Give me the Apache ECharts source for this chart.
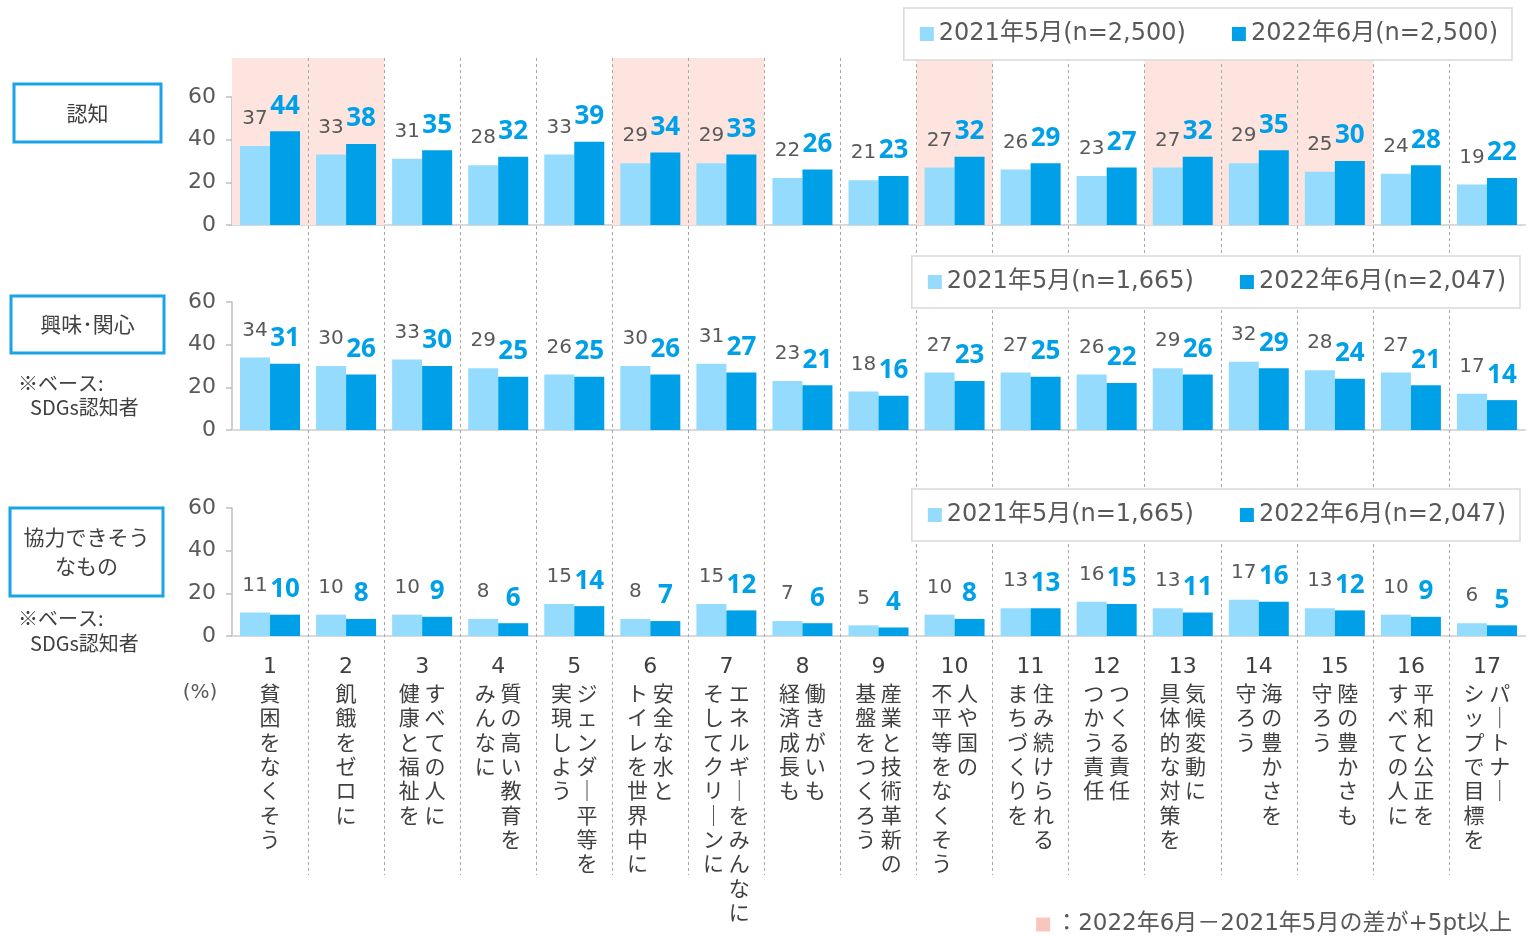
<!DOCTYPE html>
<html>
<head>
<meta charset="utf-8">
<title>SDGs 認知・興味関心・協力できそうなもの</title>
<script src="https://cdn.jsdelivr.net/npm/echarts@6/dist/echarts.min.js"></script>
<style>
html, body { margin: 0; padding: 0; background: #fff; }
#main { width: 1538px; height: 936px; }
</style>
</head>
<body>
<div id="main"></div>
<script>
// ゴール番号と目標名（右の列, 左の列）
var goals = ['1','2','3','4','5','6','7','8','9','10','11','12','13','14','15','16','17'];
var goalText = [
  ['貧困をなくそう'],
  ['飢餓をゼロに'],
  ['すべての人に', '健康と福祉を'],
  ['質の高い教育を', 'みんなに'],
  ['ジェンダー平等を', '実現しよう'],
  ['安全な水と', 'トイレを世界中に'],
  ['エネルギーをみんなに', 'そしてクリーンに'],
  ['働きがいも', '経済成長も'],
  ['産業と技術革新の', '基盤をつくろう'],
  ['人や国の', '不平等をなくそう'],
  ['住み続けられる', 'まちづくりを'],
  ['つくる責任', 'つかう責任'],
  ['気候変動に', '具体的な対策を'],
  ['海の豊かさを', '守ろう'],
  ['陸の豊かさも', '守ろう'],
  ['平和と公正を', 'すべての人に'],
  ['パートナー', 'シップで目標を']
];

// 認知
var aware2021 = [37, 33, 31, 28, 33, 29, 29, 22, 21, 27, 26, 23, 27, 29, 25, 24, 19];
var aware2022 = [44, 38, 35, 32, 39, 34, 33, 26, 23, 32, 29, 27, 32, 35, 30, 28, 22];
// 興味・関心
var interest2021 = [34, 30, 33, 29, 26, 30, 31, 23, 18, 27, 27, 26, 29, 32, 28, 27, 17];
var interest2022 = [31, 26, 30, 25, 25, 26, 27, 21, 16, 23, 25, 22, 26, 29, 24, 21, 14];
// 協力できそうなもの
var coop2021 = [11, 10, 10, 8, 15, 8, 15, 7, 5, 10, 13, 16, 13, 17, 13, 10, 6];
var coop2022 = [10, 8, 9, 6, 14, 7, 12, 6, 4, 8, 13, 15, 11, 16, 12, 9, 5];

var yTicks = [0, 20, 40, 60];
var highlightGoals = ['1', '2', '6', '7', '10', '13', '14', '15'];

var legendAware = ['2021年5月(n=2,500)', '2022年6月(n=2,500)'];
var legendBase = ['2021年5月(n=1,665)', '2022年6月(n=2,047)'];
var highlightName = '：2022年6月－2021年5月の差が+5pt以上';

var FONT = '"DejaVu Sans", "Noto Sans CJK JP", sans-serif';
var CJK = '"Noto Sans CJK JP", sans-serif';
var LIGHT = '#95dbfd';
var DARK = '#00a0e9';
var GRAY = '#595959';

var chart = echarts.init(document.getElementById('main'));

var panels = [
  { top: 97,  bottom: 711, d1: aware2021,    d2: aware2022,    names: legendAware },
  { top: 302, bottom: 506, d1: interest2021, d2: interest2022, names: legendBase },
  { top: 508, bottom: 300, d1: coop2021,     d2: coop2022,     names: legendBase }
];

// 縦書き風のラベル
function goalLabel(value, idx) {
  var cols = goalText[idx];
  var right = Array.from(cols[0].replace(/ー/g, '｜'));
  var left = cols[1] ? Array.from(cols[1].replace(/ー/g, '｜')) : null;
  var n = Math.max(right.length, left ? left.length : 0);
  var rows = ['{n|' + value + '}'];
  for (var i = 0; i < n; i++) {
    var row = (left ? (left[i] || '　') + ' ' : '') + (right[i] || '　');
    rows.push('{t|' + row + '}');
  }
  return rows.join('\n');
}

var grids = [
  { left: 232, right: 13, top: 58, bottom: 711 },  // ピンクの強調
  { left: 232, right: 13, top: 58, bottom: 61 }    // 点線
];
var xAxes = [
  { gridIndex: 0, type: 'category', data: goals, show: false },
  { gridIndex: 1, type: 'category', data: goals, z: 1,
    axisLine: { show: false }, axisTick: { show: false }, axisLabel: { show: false },
    splitLine: { show: true, showMinLine: false, showMaxLine: false,
      lineStyle: { color: '#a6a6a6', width: 1, type: [3, 3] } } }
];
var yAxes = [
  { gridIndex: 0, type: 'value', min: 0, max: 1, show: false },
  { gridIndex: 1, type: 'value', min: 0, max: 1, show: false }
];
var series = [
  { name: highlightName, type: 'bar', xAxisIndex: 0, yAxisIndex: 0, z: 0,
    barWidth: '100%', itemStyle: { color: '#fde4df' }, silent: true,
    data: goals.map(function (g) { return highlightGoals.indexOf(g) >= 0 ? 1 : '-'; }) }
];

panels.forEach(function (p, i) {
  var gi = grids.length;
  grids.push({ left: 232, right: 13, top: p.top, bottom: p.bottom });
  var last = i === panels.length - 1;
  xAxes.push({
    gridIndex: gi, type: 'category', data: goals,
    axisLine: { lineStyle: { color: '#d9d9d9', width: 2 } },
    axisTick: { show: false },
    axisLabel: last ? {
      show: true, interval: 0, margin: 18, formatter: goalLabel,
      rich: {
        n: { fontFamily: FONT, fontSize: 22, lineHeight: 27, color: '#404040' },
        t: { fontFamily: CJK, fontSize: 21, lineHeight: 24.3, color: '#404040' }
      }
    } : { show: false }
  });
  yAxes.push({
    gridIndex: gi, type: 'value',
    min: yTicks[0], max: yTicks[yTicks.length - 1], interval: yTicks[1] - yTicks[0],
    axisLine: { show: true, lineStyle: { color: '#bfbfbf', width: 1.5 } },
    axisTick: { show: true, length: 6, lineStyle: { color: '#bfbfbf', width: 1.5 } },
    axisLabel: { color: GRAY, fontSize: 22, fontFamily: FONT, margin: 16 },
    splitLine: { show: false }
  });
  series.push({
    name: p.names[0], type: 'bar', xAxisIndex: gi, yAxisIndex: gi,
    barWidth: 30, barGap: '0%', data: p.d1,
    itemStyle: { color: LIGHT },
    label: { show: true, position: 'top', distance: 17, color: GRAY,
      fontSize: 20, fontFamily: FONT }
  });
  series.push({
    name: p.names[1], type: 'bar', xAxisIndex: gi, yAxisIndex: gi,
    barWidth: 30, barGap: '0%', data: p.d2,
    itemStyle: { color: DARK },
    label: { show: true, position: 'top', distance: 12, color: DARK,
      fontSize: 26, fontWeight: 'bold', fontFamily: '"Noto Sans", sans-serif' }
  });
});

var legendStyle = {
  icon: 'rect', itemWidth: 14, itemHeight: 14, itemGap: 46,
  selectedMode: false, backgroundColor: '#fff',
  borderColor: '#d9d9d9', borderWidth: 1.5, padding: [14, 14, 14, 16],
  textStyle: { color: GRAY, fontSize: 24, fontFamily: FONT }
};

function boxText(x, y, w, h, text) {
  return [
    { type: 'rect', shape: { x: x, y: y, width: w, height: h },
      style: { fill: '#fff', stroke: '#1aa3e8', lineWidth: 3 } },
    { type: 'text', x: x + w / 2, y: y + h / 2,
      style: { text: text, fill: '#404040', font: '21px ' + CJK, lineHeight: 29,
        align: 'center', verticalAlign: 'middle', textAlign: 'center', textVerticalAlign: 'middle' } }
  ];
}
function note(x, y, text) {
  return { type: 'text', x: x, y: y,
    style: { text: text, fill: '#404040', font: '20px ' + CJK,
      align: 'left', verticalAlign: 'middle', textAlign: 'left', textVerticalAlign: 'middle' } };
}

var graphics = []
  .concat(boxText(14, 84, 147, 58, '認知'))
  .concat(boxText(11, 296, 153, 57, '興味･関心'))
  .concat(boxText(10, 508, 153, 88, '協力できそう\nなもの'))
  .concat([
    note(18, 383, '※ベース:'), note(30, 407, 'SDGs認知者'),
    note(18, 618, '※ベース:'), note(30, 643, 'SDGs認知者'),
    { type: 'text', x: 200, y: 693,
      style: { text: '(%)', fill: GRAY, font: '20px ' + FONT,
        align: 'center', verticalAlign: 'middle', textAlign: 'center', textVerticalAlign: 'middle' } }
  ]);

var option = {
  animation: false,
  grid: grids,
  xAxis: xAxes,
  yAxis: yAxes,
  legend: [
    Object.assign({}, legendStyle, { data: legendAware, right: 26, top: 8 }),
    Object.assign({}, legendStyle, { data: legendBase, right: 18, top: 256 }),
    Object.assign({}, legendStyle, { data: legendBase, right: 18, top: 489 }),
    { data: [{ name: highlightName, itemStyle: { color: '#f9c6bd' } }],
      right: 21, top: 908, icon: 'rect', itemWidth: 14, itemHeight: 14,
      selectedMode: false,
      textStyle: { color: GRAY, fontSize: 23, fontFamily: FONT } }
  ],
  graphic: graphics,
  series: series
};
chart.setOption(option);
</script>
</body>
</html>
